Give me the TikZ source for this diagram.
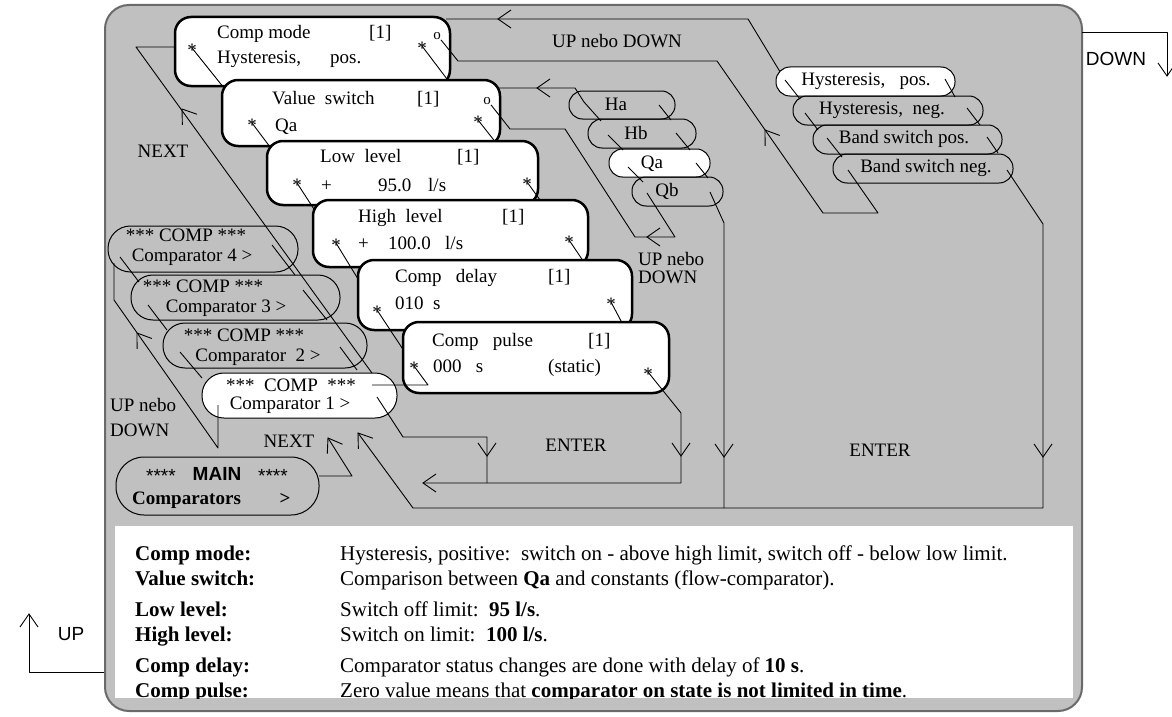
\documentclass[tikz,border=0pt]{standalone}
\usepackage{fontspec}
\setmainfont{Liberation Serif}
\newfontfamily\sansf{Liberation Sans}
\newcommand\dfont{\fontsize{19}{21}\selectfont}
\newcommand\tfont{\fontsize{21}{25}\selectfont}
\newcommand\sfont{\sansf\fontsize{19}{21}\selectfont}
\definecolor{bggrey}{HTML}{C0C0C0}
\definecolor{edgegrey}{HTML}{6A6A6A}
\tikzset{
  conn/.style={line width=0.9pt, line join=round},
  sbox/.style={draw, line width=2.5pt, fill=white, rounded corners=16pt, inner sep=0pt, outer sep=0pt, anchor=north west},
  pill/.style={draw, line width=1pt, inner sep=0pt, outer sep=0pt, anchor=north west},
  txt/.style={inner sep=0pt, anchor=west, font=\dfont, text height=13pt, text depth=4pt},
  ctxt/.style={txt, anchor=center},
  ttxt/.style={inner sep=0pt, anchor=west, font=\tfont, text height=14pt, text depth=5pt},
  ast/.style={inner sep=0pt, font=\dfont, yshift=-2.5pt},
  omark/.style={inner sep=0pt, font=\fontsize{15}{15}\selectfont},
  ah/.pic={\draw[line width=0.9pt, line join=miter] (-13,-9) -- (0,0) -- (-13,9);},
}
\begin{document}
\begin{tikzpicture}[x=1pt,y=-1pt]
\useasboundingbox (0,0) rectangle (1172,717);
% frame and text panel
\node[draw=edgegrey, fill=bggrey, line width=2pt, rounded corners=24pt, minimum width=977pt, minimum height=706pt, anchor=north west, inner sep=0pt, outer sep=0pt] (frame) at (105,5) {};
\node[fill=white, minimum width=958pt, minimum height=172pt, anchor=north west, inner sep=0pt, outer sep=0pt] (panel) at (115,526) {};
\begin{scope}
\clip (panel.north west) rectangle (panel.south east);
\node[ttxt] (d1l) at (135,556) {\textbf{Comp mode:}};
\node[ttxt] (d1r) at (340,556) {Hysteresis, positive:\ \ switch on - above high limit, switch off - below low limit.};
\node[ttxt] (d2l) at (135,581) {\textbf{Value switch:}};
\node[ttxt] (d2r) at (340,581) {Comparison between \textbf{Qa} and constants (flow-comparator).};
\node[ttxt] (d3l) at (135,612) {\textbf{Low level:}};
\node[ttxt] (d3r) at (340,612) {Switch off limit:\ \ \textbf{95 l/s}.};
\node[ttxt] (d4l) at (135,637) {\textbf{High level:}};
\node[ttxt] (d4r) at (340,637) {Switch on limit:\ \ \textbf{100 l/s}.};
\node[ttxt] (d5l) at (135,668) {\textbf{Comp delay:}};
\node[ttxt] (d5r) at (340,668) {Comparator status changes are done with delay of \textbf{10 s}.};
\node[ttxt] (d6l) at (135,693) {\textbf{Comp pulse:}};
\node[ttxt] (d6r) at (340,693) {Zero value means that \textbf{comparator on state is not limited in time}.};
\end{scope}

% named points
\coordinate (cmLp) at (192,48); \coordinate (cmRp) at (422,46);
\coordinate (vsLp) at (252,123); \coordinate (vsRp) at (478,120);
\coordinate (llLp) at (297,183); \coordinate (llRp) at (527,182);
\coordinate (hlLp) at (336,243); \coordinate (hlRp) at (569,240);
\coordinate (cdLp) at (377,310); \coordinate (cdRp) at (611,302);
\coordinate (cpLp) at (414,366); \coordinate (cpRp) at (648,372);
\coordinate (a0) at (377,380); \coordinate (a1) at (136,47); \coordinate (a2) at (176,47);
\coordinate (m0) at (319,476); \coordinate (m1) at (352,476); \coordinate (m2) at (328,438);
\coordinate (g0) at (1007,170); \coordinate (g1) at (1043,224); \coordinate (g2) at (1043,508);
\coordinate (g3) at (413,508); \coordinate (g4) at (358,433);
\coordinate (q0) at (710,192); \coordinate (q1) at (724,223); \coordinate (q2) at (724,508);
\coordinate (h0) at (584,102); \coordinate (h1) at (575,88); \coordinate (h2) at (499,88);
\coordinate (y0) at (785,80); \coordinate (y1) at (748,19); \coordinate (y2) at (446,19);
\coordinate (u0) at (218,405); \coordinate (u1) at (218,448); \coordinate (u2) at (114,300); \coordinate (u3) at (114,263);
\coordinate (e0) at (377,397); \coordinate (e1) at (403,437); \coordinate (e2) at (487,437); \coordinate (e3) at (487,483);
\coordinate (f1) at (681,413); \coordinate (f2) at (681,483); \coordinate (f3) at (423,483);
\coordinate (p1) at (428,385); \coordinate (p2) at (372,385);
\coordinate (v1) at (510,129); \coordinate (v2) at (565,129); \coordinate (v3) at (635,237); \coordinate (v4) at (675,237); \coordinate (v5) at (647,193);
\coordinate (ol1) at (458,61); \coordinate (ol2) at (717,61); \coordinate (ol3) at (823,213); \coordinate (ol4) at (878,213); \coordinate (ol5) at (848,170);
\coordinate (dn0) at (1082,32); \coordinate (dn1) at (1167,32); \coordinate (dn2) at (1167,76);
\coordinate (up0) at (104,672); \coordinate (up1) at (29,672); \coordinate (up2) at (29,614);

% connectors lying under the shapes
\draw[conn] (a0) -- (a1) -- (a2);
\pic[rotate=126] at (182,109) {ah};
\draw[conn] (m0) -- (m1) -- (m2); \pic[rotate=122] at (m2) {ah};
\draw[conn] (g0) -- (g1) -- (g2) -- (g3) -- (g4); \pic[rotate=126] at (g4) {ah};
\pic[rotate=-90] at (1043,457) {ah};
\draw[conn] (q0) -- (q1) -- (q2); \pic[rotate=-90] at (724,457) {ah};
\draw[conn] (h0) -- (h1) -- (h2); \pic[rotate=180] at (537,88) {ah};
\draw[conn] (y0) -- (y1) -- (y2); \pic[rotate=180] at (498,19) {ah};
\draw[conn] (dn0) -- (dn1) -- (dn2); \pic[rotate=-90] at (dn2) {ah};
\draw[conn] (up0) -- (up1) -- (up2); \pic[rotate=90] at (up2) {ah};

% labels
\node[ctxt] (lb1) at (163,153) {NEXT};
\node[ctxt] (lb2) at (617,43) {UP nebo DOWN};
\node[txt] (lb3) at (638,261) {UP nebo};
\node[txt] (lb4) at (638,279) {DOWN};
\node[txt] (lb5) at (110,407) {UP nebo};
\node[txt] (lb6) at (110,432) {DOWN};
\node[ctxt] (lb7) at (289,443) {NEXT};
\node[ctxt] (lb8) at (576,447) {ENTER};
\node[ctxt] (lb9) at (880,452) {ENTER};
\node[ctxt, font=\sfont] (lb10) at (1116,61) {DOWN};
\node[ctxt, font=\sfont] (lb11) at (71,636) {UP};

% comparator pills
\node[pill, rounded corners=22.5pt, minimum width=190pt, minimum height=46pt] (c4) at (108,226) {};
\node[pill, rounded corners=22pt, minimum width=209pt, minimum height=45pt] (c3) at (131,275) {};
\node[pill, rounded corners=22pt, minimum width=204pt, minimum height=45pt] (c2) at (163,323) {};
\node[pill, fill=white, rounded corners=22pt, minimum width=195pt, minimum height=45pt] (c1) at (202,373) {};
\node[ctxt] (c4a) at (186,237) {*** COMP ***};
\node[ctxt] (c4b) at (192,257) {Comparator 4 >};
\node[ctxt] (c3a) at (203,288) {*** COMP ***};
\node[ctxt] (c3b) at (226,308) {Comparator 3 >};
\node[ctxt] (c2a) at (244,337) {*** COMP ***};
\node[ctxt] (c2b) at (258,357) {Comparator\ \ 2 >};
\node[ctxt] (c1a) at (291,387) {***\ \ COMP\ \ ***};
\node[ctxt] (c1b) at (290,405) {Comparator 1 >};

% main
\node[pill, rounded corners=28pt, minimum width=203pt, minimum height=58pt] (mainb) at (116,457) {};
\node[ctxt, font=\sfont] (ma1) at (161,478) {****};
\node[ctxt, font=\sfont] (ma2) at (217,476) {\bfseries MAIN};
\node[ctxt, font=\sfont] (ma3) at (273,478) {****};
\node[txt] (ma4) at (132,500) {\textbf{Comparators}};
\node[ctxt] (ma5) at (285,500) {\textbf{>}};

% value pills
\node[pill, rounded corners=13.5pt, minimum width=106pt, minimum height=28pt] (ha) at (569,91) {};
\node[pill, rounded corners=14pt, minimum width=108pt, minimum height=29pt] (hb) at (588,119) {};
\node[pill, fill=white, rounded corners=13.5pt, minimum width=101pt, minimum height=28pt] (qa) at (609,149) {};
\node[pill, rounded corners=14pt, minimum width=91pt, minimum height=29pt] (qb) at (632,177) {};
\node[ctxt] (hat) at (616,106) {Ha};
\node[ctxt] (hbt) at (636,135) {Hb};
\node[ctxt] (qat) at (652,164) {Qa};
\node[ctxt] (qbt) at (667,192) {Qb};

% mode pills
\node[pill, fill=white, rounded corners=14pt, minimum width=179pt, minimum height=29pt] (hp) at (776,67) {};
\node[pill, rounded corners=14pt, minimum width=190pt, minimum height=29pt] (hn) at (793,96) {};
\node[pill, rounded corners=14pt, minimum width=189pt, minimum height=29pt] (bp) at (813,125) {};
\node[pill, rounded corners=14pt, minimum width=180pt, minimum height=29pt] (bn) at (833,154) {};
\node[ctxt] (hpt) at (866,81) {Hysteresis,\ \ \ pos.};
\node[ctxt] (hnt) at (882,110) {Hysteresis,\ \ neg.};
\node[ctxt] (bpt) at (904,139) {Band switch pos.};
\node[ctxt] (bnt) at (926,168) {Band switch neg.};

% list links inside pills
\foreach \nm/\xa/\ya/\xb/\yb in {
 c4l/120/257/139/282, c4r/272/245/295/275,
 c3l/148/305/167/330, c3r/303/290/327/320,
 c2l/180/352/202/378, c2r/340/347/357/370,
 hal/584/102/601/121, har/659/105/671/120,
 hbl/608/135/623/150, hbr/676/133/690/150,
 qal/628/167/643/182, qar/696/163/708/178,
 hpl/785/80/800/99, hpr/945/79/955/97,
 hnl/805/113/818/130, hnr/967/108/980/125,
 bpl/827/138/842/157, bpr/987/137/998/153}
 {\coordinate (\nm s) at (\xa,\ya); \coordinate (\nm e) at (\xb,\yb); \draw[conn] (\nm s) -- (\nm e);}

% comparator loops
\draw[conn] (u0) -- (u1) -- (u2) -- (u3); \pic[rotate=125] at (137,333) {ah};
\draw[conn] (e0) -- (e1) -- (e2) -- (e3); \pic[rotate=-90] at (487,456) {ah};

% settings boxes
\node[sbox, minimum width=275pt, minimum height=69pt] (cm) at (175,17) {};
\node[txt] (cmA) at (217,34) {Comp mode};
\node[txt] (cmB) at (369,34) {[1]};
\node[txt] (cmC) at (217,59) {Hysteresis,};
\node[txt] (cmD) at (330,59) {pos.};
\node[ast] (cmL) at (cmLp) {*};
\node[ast] (cmR) at (cmRp) {*};
\node[omark] (cmO) at (437,36) {o};
\draw[conn] (cmLp) -- (vsLp); \draw[conn] (cmRp) -- (vsRp);

\node[sbox, minimum width=278pt, minimum height=66pt] (vs) at (222,80) {};
\node[txt] (vsA) at (272,100) {Value\ \ switch};
\node[txt] (vsB) at (417,100) {[1]};
\node[txt] (vsC) at (275,127) {Qa};
\node[ast] (vsL) at (vsLp) {*};
\node[ast] (vsR) at (vsRp) {*};
\node[omark] (vsO) at (487,101) {o};
\draw[conn] (vsLp) -- (llLp); \draw[conn] (vsRp) -- (llRp);

\node[sbox, minimum width=271pt, minimum height=64pt] (ll) at (267,141) {};
\node[txt] (llA) at (320,158) {Low\ \ level};
\node[txt] (llB) at (457,158) {[1]};
\node[txt] (llC) at (321,187) {+};
\node[txt] (llD) at (378,187) {95.0};
\node[txt] (llE) at (428,187) {l/s};
\node[ast] (llL) at (llLp) {*};
\node[ast] (llR) at (llRp) {*};
\draw[conn] (llLp) -- (hlLp); \draw[conn] (llRp) -- (hlRp);

\node[sbox, minimum width=275pt, minimum height=67pt] (hl) at (313,200) {};
\node[txt] (hlA) at (358,218) {High\ \ level};
\node[txt] (hlB) at (502,218) {[1]};
\node[txt] (hlC) at (358,245) {+};
\node[txt] (hlD) at (388,245) {100.0};
\node[txt] (hlE) at (445,245) {l/s};
\node[ast] (hlL) at (hlLp) {*};
\node[ast] (hlR) at (hlRp) {*};
\draw[conn] (hlLp) -- (cdLp); \draw[conn] (hlRp) -- (cdRp);

\node[sbox, minimum width=274pt, minimum height=70pt] (cd) at (358,260) {};
\node[txt] (cdA) at (395,278) {Comp\ \ \ delay};
\node[txt] (cdB) at (548,278) {[1]};
\node[txt] (cdC) at (395,305) {010\ \ s};
\node[ast] (cdL) at (cdLp) {*};
\node[ast] (cdR) at (cdRp) {*};
\draw[conn] (cdLp) -- (cpLp); \draw[conn] (cdRp) -- (cpRp);

\node[sbox, minimum width=266pt, minimum height=71pt] (cp) at (403,322) {};
\node[txt] (cpA) at (432,342) {Comp\ \ \ pulse};
\node[txt] (cpB) at (588,342) {[1]};
\node[txt] (cpC) at (433,368) {000\ \ \ s};
\node[txt] (cpD) at (548,368) {(static)};
\node[ast] (cpL) at (cpLp) {*};
\node[ast] (cpR) at (cpRp) {*};

% connectors leaving the settings boxes
\draw[conn] (cpRp) -- (f1) -- (f2) -- (f3);
\pic[rotate=-90] at (681,456) {ah}; \pic[rotate=180] at (f3) {ah};
\draw[conn] (cpLp) -- (p1) -- (p2);
\draw[conn] (cmO.south east) -- (ol1) -- (ol2) -- (ol3) -- (ol4) -- (ol5);
\pic[rotate=125] at (765,130) {ah};
\draw[conn] (vsO.south east) -- (v1) -- (v2) -- (v3) -- (v4) -- (v5);
\pic[rotate=180] at (647,237) {ah};
\end{tikzpicture}
\end{document}
